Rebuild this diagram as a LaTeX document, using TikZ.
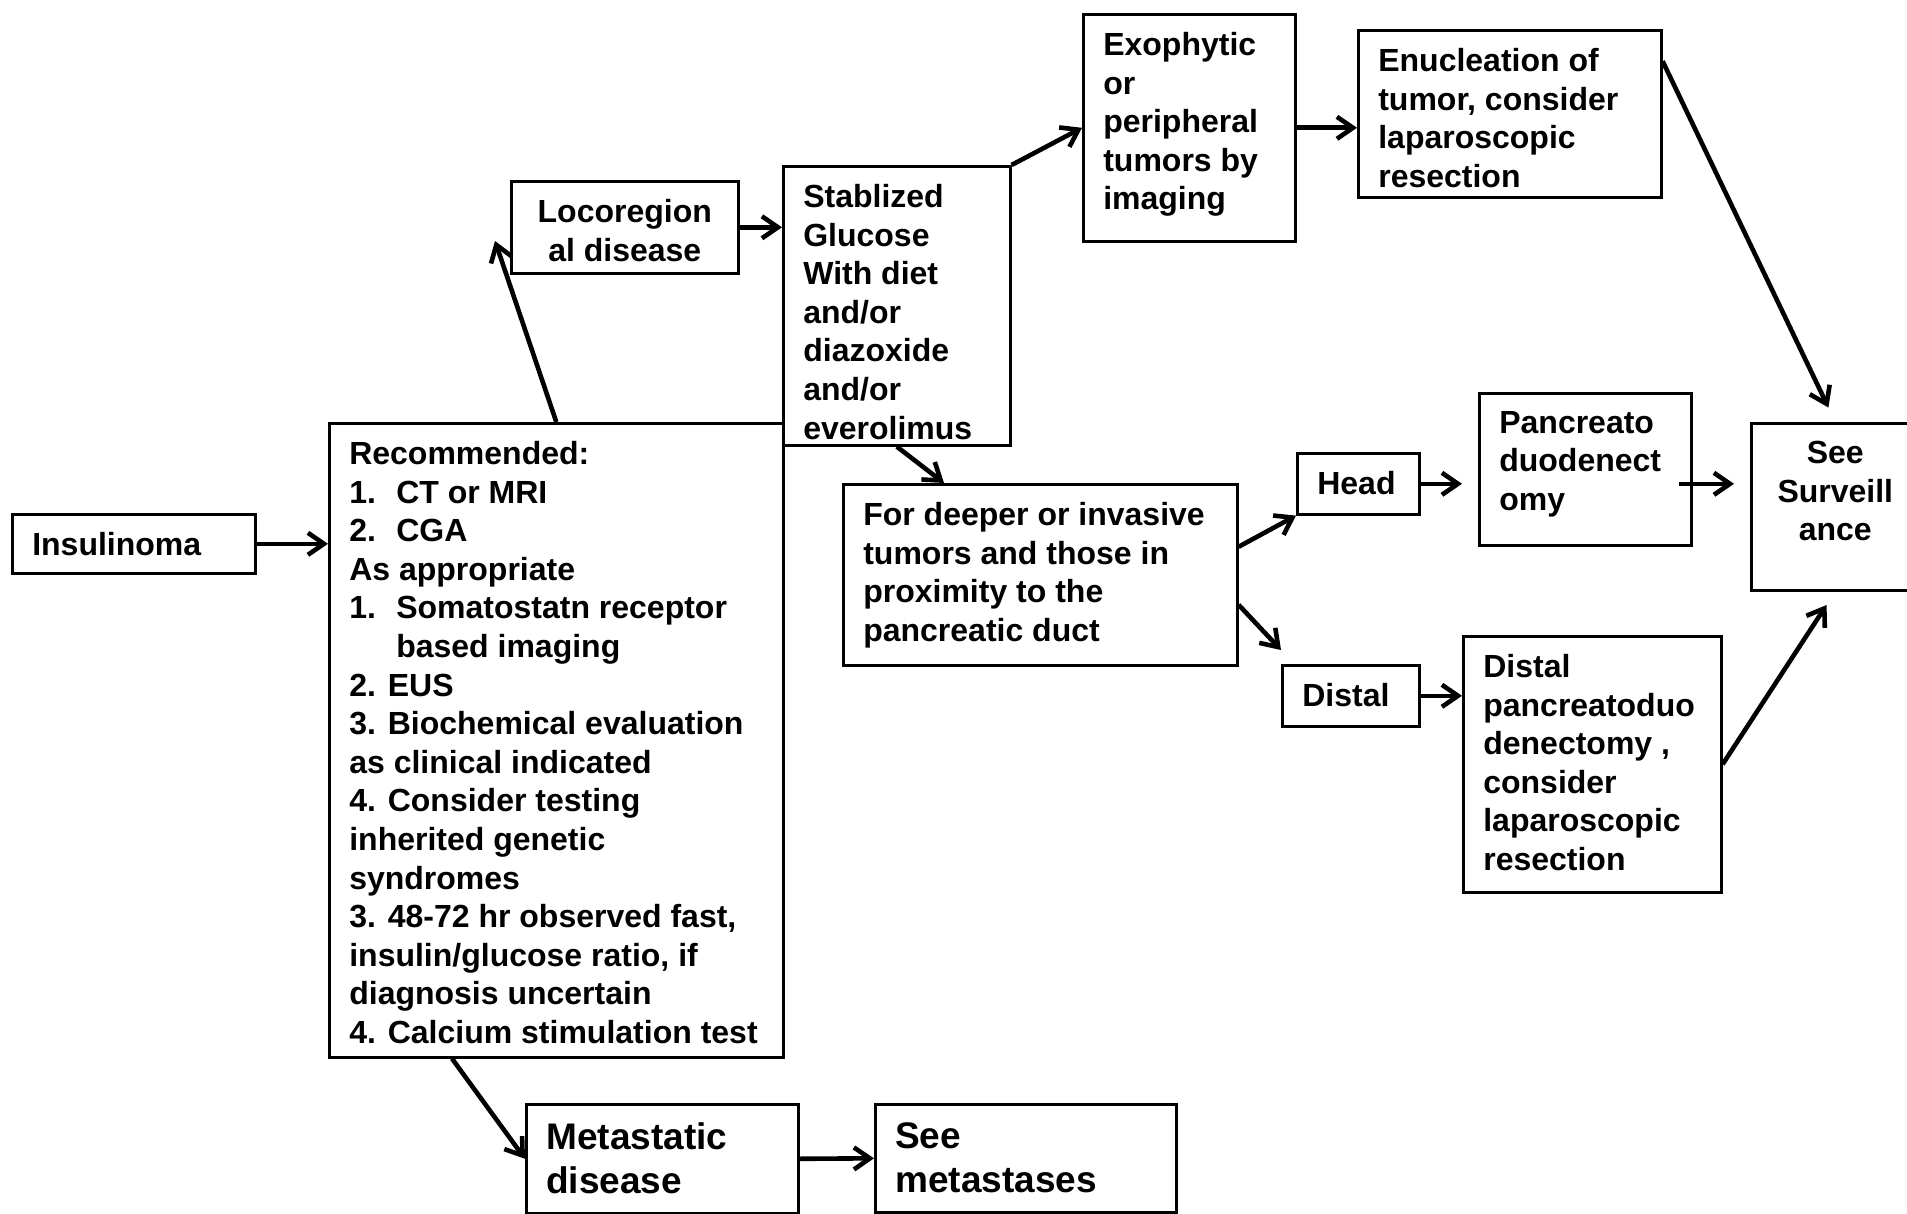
\documentclass[tikz,border=0pt]{standalone}
\usepackage{fontspec}
\setmainfont{Liberation Sans}
\usetikzlibrary{arrows.meta}

\newcommand{\boxtext}[3]{\parbox[c][#2][t]{#1}{\raggedright #3}}
\newcommand{\itm}[1]{\makebox[23.5pt][l]{#1}}

\begin{document}
\begin{tikzpicture}[%
  x=0.5pt, y=-0.5pt,
  box/.style={draw, line width=1.3pt, anchor=north west, inner xsep=10pt, inner ysep=9pt,
    font=\bfseries\fontsize{16}{19.3}\selectfont},
  big/.style={box, font=\bfseries\fontsize{18.5}{22}\selectfont},
  arr/.style={-{Straight Barb[length=8pt,width=11pt]}, line width=2.3pt}]

  \useasboundingbox (0,0) rectangle (1907,1214);

  % first column
  \node[box] (ins) at (11,513) {\boxtext{101.5pt}{11.5pt}{Insulinoma}};
  \node[box] (rec) at (328,422) {\boxtext{207pt}{299pt}{Recommended:\\
    \itm{1.}CT or MRI\\
    \itm{2.}CGA\\
    As appropriate\\
    \itm{1.}Somatostatn receptor\\
    \itm{}based imaging\\
    2. EUS\\
    3. Biochemical evaluation\\
    as clinical indicated\\
    4. Consider testing\\
    inherited genetic\\
    syndromes\\
    3. 48-72 hr observed fast,\\
    insulin/glucose ratio, if\\
    diagnosis uncertain\\
    4. Calcium stimulation test}};

  % locoregional branch
  \node[box] (loco) at (510,180) {\boxtext{93.5pt}{28pt}{\centering Locoregion\\al disease}};
  \node[box] (stab) at (782,165) {\boxtext{93.5pt}{121.5pt}{Stablized\\Glucose\\With diet\\and/or\\diazoxide\\and/or\\everolimus}};
  \node[box] (exo) at (1082,13) {\boxtext{86pt}{95.5pt}{Exophytic\\or\\peripheral\\tumors by\\imaging}};
  \node[box] (enuc) at (1357,29) {\boxtext{131.5pt}{65.5pt}{Enucleation of\\tumor, consider\\laparoscopic\\resection}};
  \node[box] (deep) at (842,483) {\boxtext{177pt}{72.5pt}{For deeper or invasive\\tumors and those in\\proximity to the\\pancreatic duct}};
  \node[box] (head) at (1296,452) {\boxtext{41pt}{12.5pt}{Head}};
  \node[box] (dist) at (1281,664) {\boxtext{48.5pt}{12.5pt}{Distal}};
  \node[box] (panc) at (1478,392) {\boxtext{86pt}{58pt}{Pancreato\\duodenect\\omy}};
  \node[box] (dpanc) at (1462,635) {\boxtext{109pt}{110pt}{Distal\\pancreatoduo\\denectomy ,\\consider\\laparoscopic\\resection}};
  \node[box] (surv) at (1750,422) {\boxtext{64pt}{65.5pt}{\centering See\\Surveill\\ance}};

  % metastatic branch
  \node[big] (meta) at (525,1103) {\boxtext{116pt}{36.5pt}{Metastatic\\disease}};
  \node[big] (smet) at (874,1103) {\boxtext{130.5pt}{36pt}{See\\metastases}};

  \coordinate (locoin) at (495,241);

  \draw[arr] (ins.east) -- (ins.east -| rec.west);
  \draw[arr] (rec.north) -- (locoin);
  \draw[arr] (loco.east) -- (loco.east -| stab.west);
  \draw[arr] (stab.north east) -- (exo.west);
  \draw[arr] (exo.east) -- (exo.east -| enuc.west);
  \draw[arr, shorten >=8pt] (enuc.19) -- (surv.north);
  \draw[arr] (stab.south) -- ([xshift=51pt]deep.north west);
  \draw[arr] ([yshift=14pt]deep.east) -- (head.south west);
  \draw[arr] ([yshift=-15pt]deep.east) -- ([yshift=7pt]dist.north west);
  \draw[arr, shorten >=8pt] (head.east) -- (head.east -| panc.west);
  \draw[arr, shorten <=-7pt, shorten >=8pt] (head.east -| panc.east) -- (head.east -| surv.west);
  \draw[arr] (dist.east) -- (dist.east -| dpanc.west);
  \draw[arr, shorten >=8pt] (dpanc.east) -- (surv.south);
  \draw[arr] ([xshift=62pt]rec.south west) -- (meta.west);
  \draw[arr] (meta.east) -- (smet.west);
\end{tikzpicture}
\end{document}
